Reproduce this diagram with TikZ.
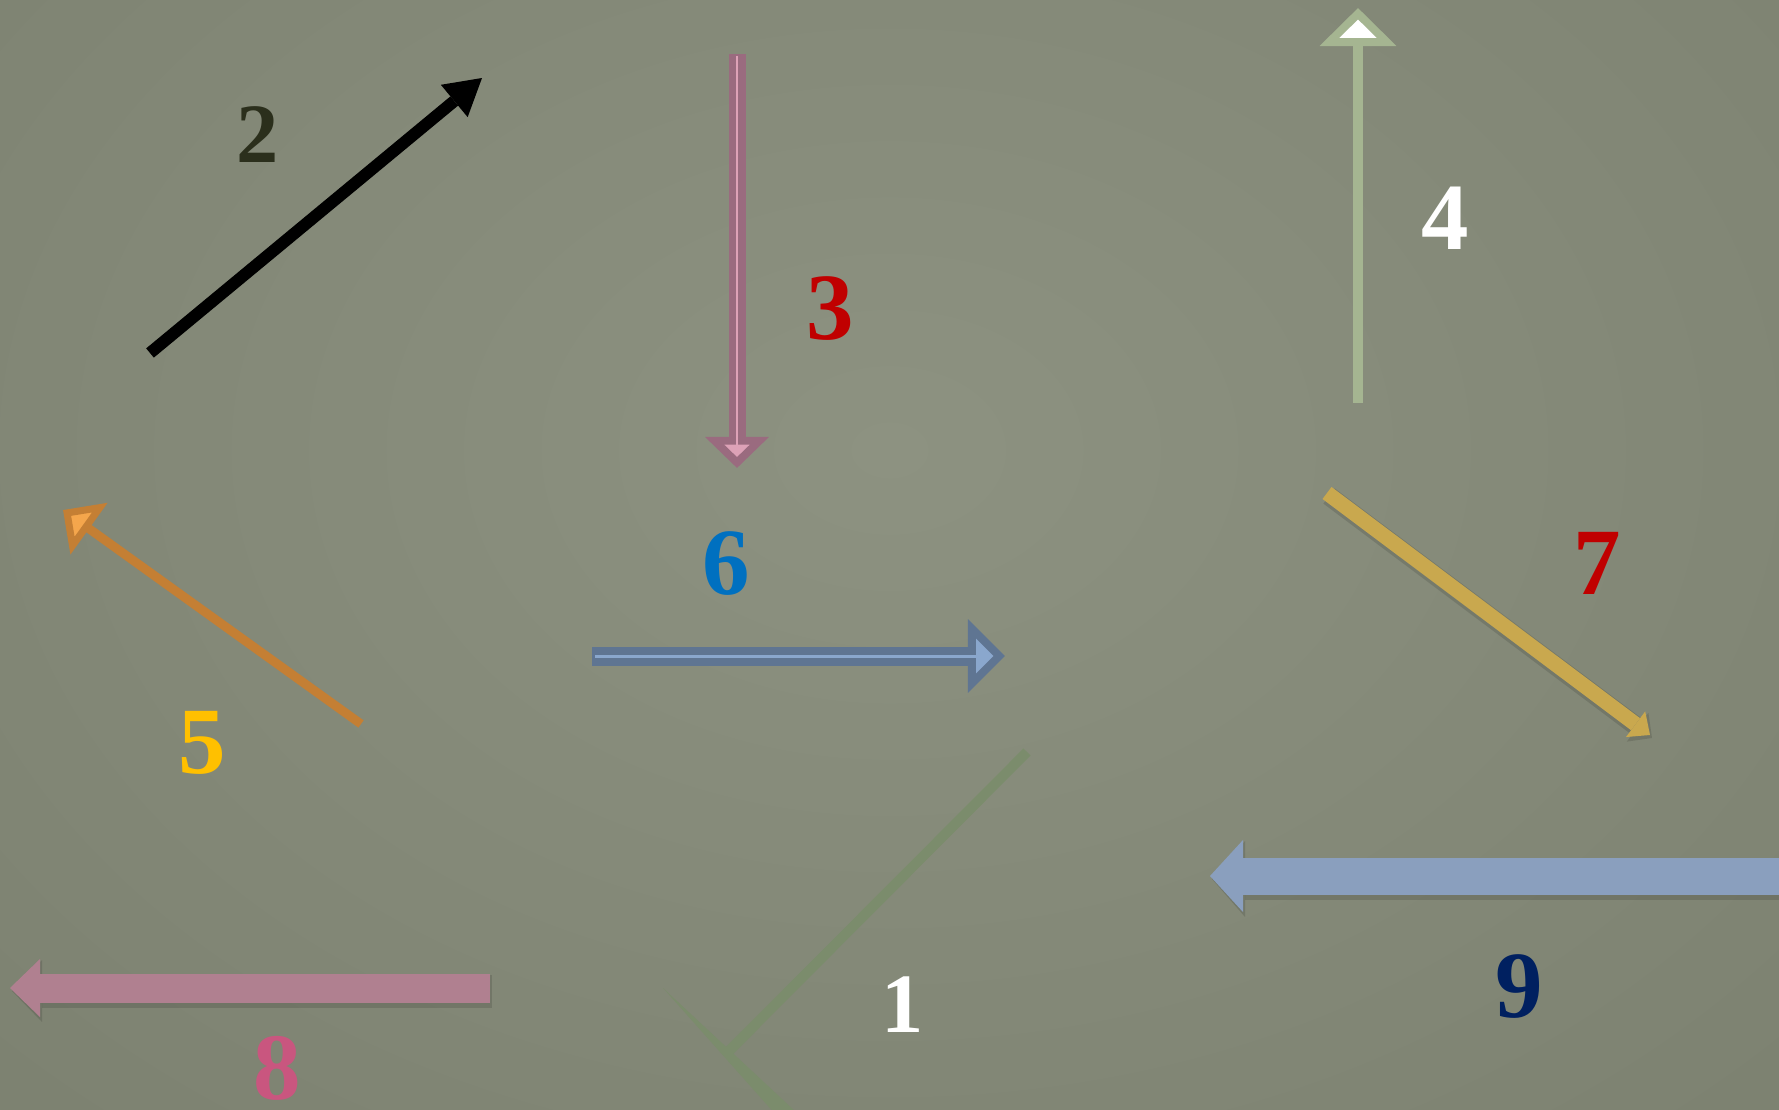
\documentclass[tikz,border=0pt]{standalone}
\usepackage{fontspec}
\setmainfont{Liberation Serif}
\usetikzlibrary{arrows.meta}
\definecolor{Board}{HTML}{8D9281}
\definecolor{BoardEdge}{HTML}{7D8271}
\definecolor{Moss}{HTML}{7B8C6C}
\definecolor{Mauve}{HTML}{9A6B7F}
\definecolor{Blush}{HTML}{DDA2B7}
\definecolor{Sage}{HTML}{A5B591}
\definecolor{Amber}{HTML}{C47F34}
\definecolor{Apricot}{HTML}{F4A64C}
\definecolor{Steel}{HTML}{5F7592}
\definecolor{Sky}{HTML}{8AA7CD}
\definecolor{Mustard}{HTML}{C9A84E}
\definecolor{Heather}{HTML}{B08090}
\definecolor{Denim}{HTML}{8A9FBE}
\definecolor{Olive}{HTML}{2B2F1C}
\definecolor{Crimson}{HTML}{C00000}
\definecolor{Gold}{HTML}{FFC000}
\definecolor{Azure}{HTML}{0070C0}
\definecolor{Rosy}{HTML}{C9567F}
\definecolor{Navy}{HTML}{002060}

\begin{document}
\begin{tikzpicture}[x=0.01cm, y=-0.01cm,
    num/.style={font=\fontsize{27}{30}\selectfont\bfseries, inner sep=0pt},
    smallnum/.style={font=\fontsize{24}{28}\selectfont\bfseries, inner sep=0pt},
    solidtip/.style={-{Triangle[#1, line width=0pt]}},
    shadowline/.style={black, opacity=0.12, transform canvas={shift={(0.02cm,-0.03cm)}}},
]

% === Board ===
\useasboundingbox (0,0) rectangle (1779,1109);
\fill[Board] (0,0) rectangle (1779,1109);
\begin{scope}
    \clip (0,0) rectangle (1779,1109);
    \shade[inner color=Board, outer color=BoardEdge] (-350,-450) rectangle (2129,1350);
\end{scope}

% === Arrow ends ===
\coordinate (a1s) at (1027,752);
\coordinate (a1v) at (725,1055);
\coordinate (a1w) at (663,988);
\coordinate (a2s) at (150,353);
\coordinate (a2e) at (482,78);
\coordinate (a3s) at (737,54);
\coordinate (a3e) at (737,468);
\coordinate (a4s) at (1358,403);
\coordinate (a4e) at (1358,8);
\coordinate (a5s) at (361,724);
\coordinate (a5e) at (63,510);
\coordinate (a6s) at (592,656);
\coordinate (a6e) at (1005,656);
\coordinate (a7s) at (1327,493);
\coordinate (a7e) at (1650,735);
\coordinate (a8s) at (490,988);
\coordinate (a8e) at (10,988);
\coordinate (a9s) at (1800,876);
\coordinate (a9e) at (1210,876);

% 1: line with a tapered bar
\draw[Moss, line width=0.10cm] (a1s) -- (a1v);
\fill[Moss] (a1w) -- (797,1113) -- (785,1125) -- cycle;

% 2
\draw[black, line width=0.12cm, solidtip={length=0.36cm, width=0.42cm}] (a2s) -- (a2e);

% 3
\draw[Mauve, line width=0.17cm,
    -{Triangle[length=0.31cm, width=0.62cm, fill=Blush, line width=0.08cm]}] (a3s) -- (a3e);
\draw[Blush, line width=0.02cm, shorten <=0.02cm, shorten >=0.2cm] (a3s) -- (a3e);

% 4
\draw[Sage, line width=0.10cm,
    -{Triangle[length=0.38cm, width=0.75cm, fill=white, line width=0.08cm]}] (a4s) -- (a4e);

% 5
\draw[Amber, line width=0.09cm,
    -{Triangle[length=0.32cm, width=0.62cm, fill=Apricot, line width=0.07cm]}] (a5s) -- (a5e);

% 6
\draw[Steel, line width=0.19cm,
    -{Triangle[length=0.37cm, width=0.72cm, fill=Sky, line width=0.08cm]}] (a6s) -- (a6e);
\draw[Sky, line width=0.03cm, shorten <=0.03cm, shorten >=0.25cm] (a6s) -- (a6e);

% 7, 8, 9 (with soft shadow)
\draw[shadowline, line width=0.19cm, solidtip={length=0.18cm, width=0.36cm}] (a7s) -- (a7e);
\draw[Mustard, line width=0.15cm, solidtip={length=0.18cm, width=0.32cm}] (a7s) -- (a7e);
\draw[shadowline, line width=0.33cm, solidtip={length=0.30cm, width=0.62cm}] (a8s) -- (a8e);
\draw[Heather, line width=0.29cm, solidtip={length=0.30cm, width=0.58cm}] (a8s) -- (a8e);
\draw[shadowline, line width=0.41cm, solidtip={length=0.33cm, width=0.76cm}] (a9s) -- (a9e);
\draw[Denim, line width=0.37cm, solidtip={length=0.33cm, width=0.72cm}] (a9s) -- (a9e);

% === Numbers ===
\node[smallnum, text=white] (lab1) at (903,1005) {1};
\node[smallnum, text=Olive] (lab2) at (258,135) {2};
\node[num, text=Crimson] (lab3) at (830,309) {3};
\node[num, text=white] (lab4) at (1445,218) {4};
\node[num, text=Gold] (lab5) at (202,743) {5};
\node[num, text=Azure] (lab6) at (726,564) {6};
\node[num, text=Crimson] (lab7) at (1597,563) {7};
\node[num, text=Rosy] (lab8) at (277,1068) {8};
\node[num, text=Navy] (lab9) at (1519,987) {9};

\end{tikzpicture}
\end{document}
